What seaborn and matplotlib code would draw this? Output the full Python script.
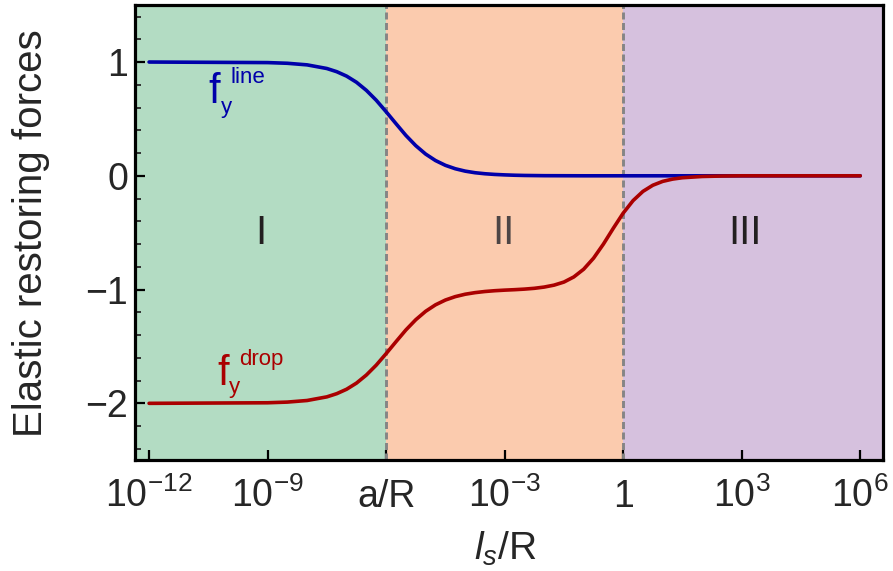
import matplotlib

matplotlib.use("Agg")

import matplotlib.pyplot as plt
import numpy as np
import pandas as pd
import seaborn as sns
from matplotlib.ticker import MultipleLocator, NullLocator

# --- data (x given as log10 of l_s/R) ---
line_logx = [-12, -9, -8.5, -8, -7.5, -7.25, -7, -6.75, -6.5, -6.25, -6, -5.75,
             -5.5, -5.25, -5, -4.75, -4.5, -4.25, -4, -3.75, -3.5, -3.25, -3,
             -2.75, -2.5, -2, -1, 0, 6]
line_force = [1.0, 0.995, 0.989, 0.975, 0.943, 0.915, 0.876, 0.822, 0.751, 0.664,
              0.563, 0.458, 0.355, 0.265, 0.191, 0.134, 0.092, 0.062, 0.041,
              0.027, 0.018, 0.012, 0.008, 0.005, 0.003, 0.001, 0.0, 0.0, 0.0]

drop_logx = [-12, -9, -8.5, -8, -7.5, -7.25, -7, -6.75, -6.5, -6.25, -6, -5.75,
             -5.5, -5.25, -5, -4.75, -4.5, -4.25, -4, -3.75, -3.5, -3.25, -3,
             -2.75, -2.5, -2.25, -2, -1.75, -1.5, -1.25, -1, -0.75, -0.5, -0.25,
             0, 0.25, 0.5, 0.75, 1, 1.25, 1.5, 2, 2.5, 3, 6]
drop_force = [-2.0, -1.995, -1.989, -1.975, -1.943, -1.915, -1.876, -1.822,
              -1.751, -1.664, -1.563, -1.458, -1.355, -1.265, -1.191, -1.134,
              -1.092, -1.062, -1.041, -1.027, -1.017, -1.010, -1.005, -1.001,
              -0.996, -0.989, -0.978, -0.961, -0.934, -0.889, -0.821, -0.724,
              -0.600, -0.461, -0.328, -0.218, -0.137, -0.083, -0.049, -0.029,
              -0.017, -0.006, -0.002, 0.0, 0.0]

x_tick_exps = [-12, -9, -6, -3, 0, 3, 6]
x_tick_labels = [r"$\mathregular{10^{-12}}$", r"$\mathregular{10^{-9}}$", "a/R",
                 r"$\mathregular{10^{-3}}$", "1", r"$\mathregular{10^{3}}$",
                 r"$\mathregular{10^{6}}$"]
y_ticks = [-2, -1, 0, 1]
y_tick_labels = ["\u22122", "\u22121", "0", "1"]

region_edges_exp = [-6, 0]
region_names = ["I", "II", "III"]
region_label_exp = [-9.17, -3.04, 3.08]

BLUE = "#0000AA"
RED = "#AA0000"
REGION_COLORS = ["#B3DCC3", "#FBCBAE", "#D6C1DE"]


def _force_label(ax, color, parts):
    """Writes f_y^xxx as separate pieces so the script size can be small."""
    for text, logx, y, size in parts:
        ax.text(10.0 ** logx, y, text, color=color, fontsize=size,
                ha="left", va="baseline", zorder=4)


def main():
    sns.set_theme(style="ticks")
    plt.rcParams["font.family"] = ["Liberation Sans", "DejaVu Sans"]
    plt.rcParams["mathtext.fontset"] = "custom"
    plt.rcParams["mathtext.rm"] = "Liberation Sans"
    plt.rcParams["mathtext.it"] = "Liberation Sans:italic"

    df = pd.concat([
        pd.DataFrame({"x": 10.0 ** np.array(line_logx), "f": line_force, "curve": "line"}),
        pd.DataFrame({"x": 10.0 ** np.array(drop_logx), "f": drop_force, "curve": "drop"}),
    ])

    fig = plt.figure(figsize=(8.93, 5.71), dpi=100)
    ax = fig.add_axes([0.151, 0.194, 0.838, 0.797])

    xmin, xmax = 10 ** -12.36, 10 ** 6.58
    edges = [xmin] + [10.0 ** e for e in region_edges_exp] + [xmax]
    for i, color in enumerate(REGION_COLORS):
        ax.axvspan(edges[i], edges[i + 1], color=color, lw=0, zorder=0)
    for e in region_edges_exp:
        ax.axvline(10.0 ** e, color="#858585", lw=2.1, ls=(0, (2.4, 1.2)), zorder=1)

    sns.lineplot(data=df, x="x", y="f", hue="curve", palette={"line": BLUE, "drop": RED},
                 lw=2.6, legend=False, ax=ax, zorder=3, sort=False)

    ax.set_xscale("log")
    ax.set_xlim(xmin, xmax)
    ax.set_ylim(-2.5, 1.5)

    for name, e in zip(region_names, region_label_exp):
        ax.text(10.0 ** e, -0.5, name, ha="center", va="center", fontsize=29,
                color="#4D4545" if name == "II" else "#231F20", zorder=2)

    _force_label(ax, BLUE, [("f", -10.51, 0.64, 30), ("y", -10.19, 0.55, 16),
                            ("line", -9.94, 0.815, 16)])
    _force_label(ax, RED, [("f", -10.28, -1.84, 30), ("y", -9.98, -1.91, 16),
                           ("drop", -9.71, -1.665, 16)])

    ax.set_xticks([10.0 ** e for e in x_tick_exps])
    ax.set_xticklabels(x_tick_labels)
    ax.xaxis.set_minor_locator(NullLocator())
    ax.set_yticks(y_ticks)
    ax.set_yticklabels(y_tick_labels)
    ax.yaxis.set_minor_locator(MultipleLocator(0.2))

    ax.tick_params(axis="both", which="major", direction="in", length=7, width=1.6,
                   labelsize=27, color="black")
    ax.tick_params(axis="x", which="major", pad=34)
    ax.tick_params(axis="y", which="major", pad=5)
    ax.tick_params(axis="y", which="minor", direction="in", length=4, width=1.3)
    ax.tick_params(top=False, right=False)
    # baseline-align x tick labels, like the reference
    plt.setp(ax.get_xticklabels(), va="baseline")

    for sp in ax.spines.values():
        sp.set_visible(True)
        sp.set_linewidth(2.3)
        sp.set_color("black")
        sp.set_zorder(5)

    ax.set_xlabel(r"$\mathit{l_s}$/R", fontsize=28)
    ax.xaxis.set_label_coords(0.495, -0.152)
    ax.set_ylabel("Elastic restoring forces", fontsize=29)
    ax.yaxis.set_label_coords(-0.114, 0.5)

    fig.savefig("out.png", dpi=100, facecolor="white")
    plt.close(fig)


if __name__ == "__main__":
    main()
